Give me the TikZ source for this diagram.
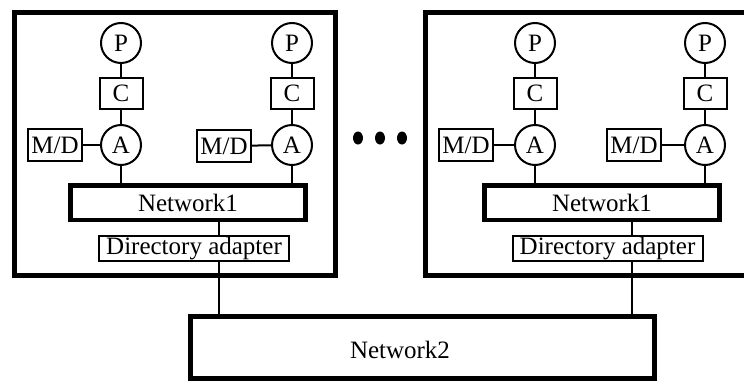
\documentclass[tikz,border=0pt]{standalone}
\usepackage{fontspec}
\setmainfont{Liberation Serif}
\usetikzlibrary{shapes.geometric}
\begin{document}
\begin{tikzpicture}[x=1pt, y=-1pt,
    frameStyle/.style={rectangle, draw, line width=5pt, minimum width=321pt, minimum height=263pt},
    procStyle/.style={circle, draw, line width=2pt, minimum size=40pt, inner sep=0pt},
    cacheStyle/.style={rectangle, draw, line width=2pt, minimum width=43pt, minimum height=31pt, inner sep=0pt},
    memStyle/.style={rectangle, draw, line width=2pt, minimum width=54pt, minimum height=32pt, inner sep=0pt},
    netStyle/.style={rectangle, draw, line width=4.5pt, minimum width=235pt, minimum height=34.5pt},
    dirStyle/.style={rectangle, draw, line width=2pt, minimum width=190pt, minimum height=25pt, inner sep=0pt},
    dotStyle/.style={ellipse, fill, minimum width=10pt, minimum height=13pt, inner sep=0pt},
    lineStyle/.style={line width=2pt},
    font=\fontsize{25}{25}\selectfont]
    \clip (0,0) rectangle (744,383);

    % left cluster
    \node[frameStyle](box1) at (175, 144) {};
    \node[procStyle](p1) at (121, 43) {P};
    \node[cacheStyle](c1) at (121, 93.5) {C};
    \node[procStyle](a1) at (121, 145) {A};
    \node[memStyle](md1) at (55, 145) {M/D};
    \node[procStyle](p2) at (292, 43) {P};
    \node[cacheStyle](c2) at (292, 93.5) {C};
    \node[procStyle](a2) at (292, 145) {A};
    \node[memStyle](md2) at (224, 146) {M/D};
    \node[netStyle](na1) at (188, 202.5) {Network1};
    \node[dirStyle](da1) at (194, 248.5) {Directory adapter};

    % dots
    \node[dotStyle](d1) at (358, 138) {};
    \node[dotStyle](d2) at (380, 138) {};
    \node[dotStyle](d3) at (402, 138) {};

    % right cluster
    \node[frameStyle](box2) at (586, 144) {};
    \node[procStyle](p3) at (535, 43) {P};
    \node[cacheStyle](c3) at (535, 93.5) {C};
    \node[procStyle](a3) at (535, 145) {A};
    \node[memStyle](md3) at (466, 145) {M/D};
    \node[procStyle](p4) at (705, 43) {P};
    \node[cacheStyle](c4) at (705, 93.5) {C};
    \node[procStyle](a4) at (705, 145) {A};
    \node[memStyle](md4) at (634, 145) {M/D};
    \node[netStyle](nb1) at (602, 202.5) {Network1};
    \node[dirStyle](da2) at (607.5, 248.5) {Directory adapter};

    % global network
    \node[netStyle, line width=5pt, minimum width=464pt, minimum height=62pt](n2) at (422.5, 347.5) {};
    \node(n2txt) at (400, 350) {Network2};

    \coordinate(l1) at (219, 0);
    \coordinate(l2) at (632, 0);

    \draw[lineStyle] (p1) -- (c1);
    \draw[lineStyle] (c1) -- (a1);
    \draw[lineStyle] (md1) -- (a1);
    \draw[lineStyle] (a1) -- (a1 |- na1.north);
    \draw[lineStyle] (p2) -- (c2);
    \draw[lineStyle] (c2) -- (a2);
    \draw[lineStyle] (md2) -- (a2);
    \draw[lineStyle] (a2) -- (a2 |- na1.north);
    \draw[lineStyle] (na1.south -| l1) -- (da1.north -| l1);
    \draw[lineStyle] (da1.south -| l1) -- (n2.north -| l1);

    \draw[lineStyle] (p3) -- (c3);
    \draw[lineStyle] (c3) -- (a3);
    \draw[lineStyle] (md3) -- (a3);
    \draw[lineStyle] (a3) -- (a3 |- nb1.north);
    \draw[lineStyle] (p4) -- (c4);
    \draw[lineStyle] (c4) -- (a4);
    \draw[lineStyle] (md4) -- (a4);
    \draw[lineStyle] (a4) -- (a4 |- nb1.north);
    \draw[lineStyle] (nb1.south -| l2) -- (da2.north -| l2);
    \draw[lineStyle] (da2.south -| l2) -- (n2.north -| l2);
\end{tikzpicture}
\end{document}
